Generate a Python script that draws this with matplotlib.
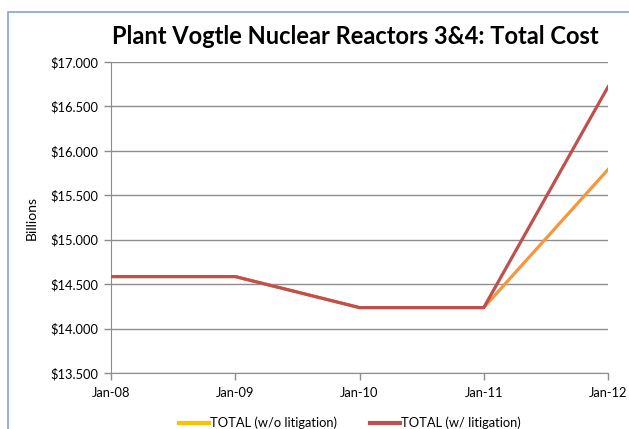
import matplotlib.pyplot as plt
from matplotlib.lines import Line2D
from matplotlib.patches import Rectangle
from matplotlib.ticker import FuncFormatter

dates = ["Jan-08", "Jan-09", "Jan-10", "Jan-11", "Jan-12"]
total_wo_litigation = [14.585, 14.585, 14.236, 14.236, 15.79]
total_w_litigation = [14.585, 14.585, 14.236, 14.236, 16.72]
series_labels = ["TOTAL (w/o litigation)", "TOTAL (w/ litigation)"]

plt.rcParams["font.family"] = ["Lato", "DejaVu Sans"]

fig = plt.figure(figsize=(6.29, 4.29), dpi=100)
ax = fig.add_axes([111 / 629, 1 - 373 / 429, (608 - 111) / 629, (373 - 62) / 429])

# outer chart frame (cut off at right and bottom)
fig.patches.append(Rectangle((8 / 629, -0.1), 1.2, 1 - 12 / 429 + 0.1,
                             transform=fig.transFigure, fill=False,
                             edgecolor="#7fa3d8", linewidth=1.2))

x = list(range(len(dates)))
ax.plot(x, total_wo_litigation, color="#F7963C", linewidth=2.3, zorder=3)
ax.plot(x, total_w_litigation, color="#C0504D", linewidth=2.3, zorder=4)

ax.set_xlim(0, 4)
ax.set_ylim(13.5, 17.0)
ax.set_yticks([13.5, 14.0, 14.5, 15.0, 15.5, 16.0, 16.5, 17.0])
ax.yaxis.set_major_formatter(FuncFormatter(lambda v, p: "${:.3f}".format(v)))
ax.set_xticks(x)
ax.set_xticklabels(dates)

ax.grid(axis="y", color="#8c8c8c", linewidth=1.0)
ax.set_axisbelow(True)
for s in ["top", "right"]:
    ax.spines[s].set_visible(False)
for s in ["left", "bottom"]:
    ax.spines[s].set_color("#8c8c8c")
ax.tick_params(axis="both", colors="#8c8c8c", labelcolor="black", labelsize=9.3, length=5, width=1.0)
ax.tick_params(axis="x", pad=5)
ax.tick_params(axis="y", pad=4)

ax.set_ylabel("Billions", fontsize=10, labelpad=9)
fig.text(0.565, 0.915, "Plant Vogtle Nuclear Reactors 3&4: Total Cost",
         ha="center", va="center", fontsize=17, fontweight="bold")

handles = [Line2D([], [], color="#FFC000", linewidth=3),
           Line2D([], [], color="#C0504D", linewidth=3)]
fig.legend(handles, series_labels, loc="center", bbox_to_anchor=(350 / 629, 1 - 423 / 429),
           ncol=2, frameon=False, fontsize=9.3, handlelength=2.3, handletextpad=0.1,
           columnspacing=2.6)

fig.savefig("out.png", dpi=100)
